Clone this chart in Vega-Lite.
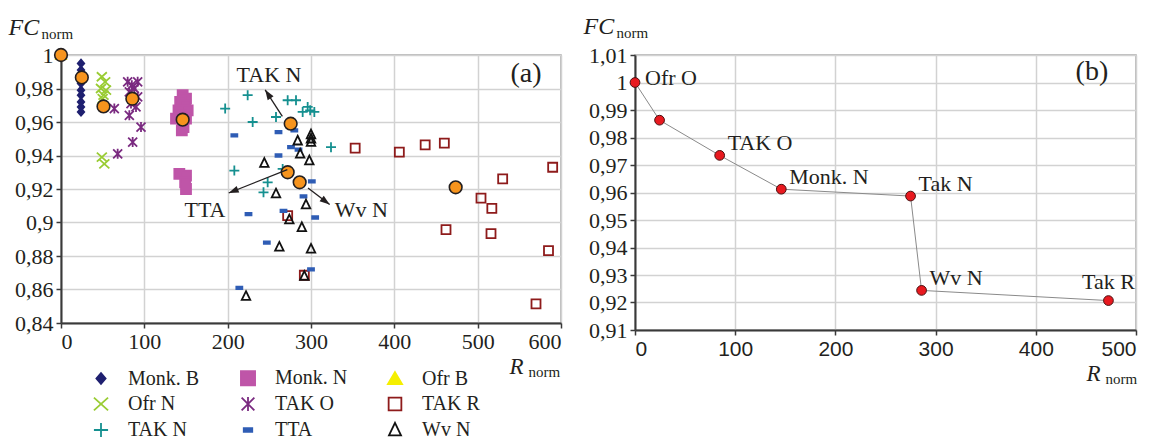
{
  "$schema": "https://vega.github.io/schema/vega-lite/v6.json",
  "background": "white",
  "padding": {"left": 7, "top": 13, "right": 0, "bottom": 0},
  "bounds": "flush",
  "spacing": 74,
  "config": {
    "font": "Liberation Serif",
    "view": {"stroke": "#a6a6a6", "strokeWidth": 1.5},
    "axis": {
      "labelFont": "Liberation Serif", "labelFontSize": 22, "labelColor": "#231f20",
      "gridColor": "#d2d2d2", "gridWidth": 1.5,
      "domainColor": "#3a3a3a", "domainWidth": 2,
      "tickColor": "#3a3a3a", "tickSize": 5, "tickWidth": 1.5, "labelPadding": 3,
      "titleFont": "Liberation Serif", "titleColor": "#231f20", "titleFontWeight": "normal"
    },
    "legend": {
      "orient": "none", "legendX": 30, "legendY": 313, "columns": 3, "gridAlign": "all",
      "labelFont": "Liberation Serif", "labelFontSize": 20, "labelColor": "#231f20",
      "symbolSize": 200, "symbolStrokeWidth": 1.8, "labelOffset": 17,
      "columnPadding": 36, "rowPadding": 4, "padding": 0
    }
  },
  "resolve": {"legend": {"shape": "independent", "fill": "independent", "stroke": "independent"}},
  "hconcat": [
    {
      "width": 500,
      "height": 268,
      "resolve": {"axis": {"x": "independent", "y": "independent"}},
      "layer": [
        {
          "data": {"values": [
            {"s": "Ofr B", "x": 0, "y": 1.0},
            {"s": "Monk. B", "x": 24, "y": 0.995}, {"s": "Monk. B", "x": 24, "y": 0.991}, {"s": "Monk. B", "x": 24, "y": 0.987},
            {"s": "Monk. B", "x": 24, "y": 0.983}, {"s": "Monk. B", "x": 24, "y": 0.979}, {"s": "Monk. B", "x": 24, "y": 0.976},
            {"s": "Monk. B", "x": 24, "y": 0.972}, {"s": "Monk. B", "x": 24, "y": 0.969}, {"s": "Monk. B", "x": 24, "y": 0.966},
            {"s": "Ofr N", "x": 49, "y": 0.987}, {"s": "Ofr N", "x": 53, "y": 0.984}, {"s": "Ofr N", "x": 48, "y": 0.980},
            {"s": "Ofr N", "x": 54, "y": 0.979}, {"s": "Ofr N", "x": 51, "y": 0.976}, {"s": "Ofr N", "x": 50, "y": 0.974},
            {"s": "Ofr N", "x": 49, "y": 0.939}, {"s": "Ofr N", "x": 52, "y": 0.935},
            {"s": "TAK O", "x": 64, "y": 0.968}, {"s": "TAK O", "x": 80, "y": 0.984}, {"s": "TAK O", "x": 85, "y": 0.982},
            {"s": "TAK O", "x": 92, "y": 0.984}, {"s": "TAK O", "x": 82, "y": 0.978}, {"s": "TAK O", "x": 88, "y": 0.980},
            {"s": "TAK O", "x": 92, "y": 0.975}, {"s": "TAK O", "x": 90, "y": 0.969}, {"s": "TAK O", "x": 84, "y": 0.971},
            {"s": "TAK O", "x": 82, "y": 0.964}, {"s": "TAK O", "x": 96, "y": 0.957}, {"s": "TAK O", "x": 86, "y": 0.948},
            {"s": "TAK O", "x": 68, "y": 0.941},
            {"s": "Monk. N", "x": 146, "y": 0.976}, {"s": "Monk. N", "x": 150, "y": 0.974}, {"s": "Monk. N", "x": 143, "y": 0.972},
            {"s": "Monk. N", "x": 149, "y": 0.970}, {"s": "Monk. N", "x": 141, "y": 0.967}, {"s": "Monk. N", "x": 152, "y": 0.967},
            {"s": "Monk. N", "x": 138, "y": 0.962}, {"s": "Monk. N", "x": 144, "y": 0.964}, {"s": "Monk. N", "x": 150, "y": 0.962},
            {"s": "Monk. N", "x": 147, "y": 0.957}, {"s": "Monk. N", "x": 145, "y": 0.955}, {"s": "Monk. N", "x": 142, "y": 0.929},
            {"s": "Monk. N", "x": 150, "y": 0.928}, {"s": "Monk. N", "x": 149, "y": 0.924}, {"s": "Monk. N", "x": 150, "y": 0.920},
            {"s": "TAK R", "x": 353, "y": 0.9444}, {"s": "TAK R", "x": 406, "y": 0.942}, {"s": "TAK R", "x": 437, "y": 0.9464},
            {"s": "TAK R", "x": 460, "y": 0.9474}, {"s": "TAK R", "x": 590, "y": 0.933}, {"s": "TAK R", "x": 530, "y": 0.926},
            {"s": "TAK R", "x": 504, "y": 0.9146}, {"s": "TAK R", "x": 517, "y": 0.9084}, {"s": "TAK R", "x": 462, "y": 0.8958},
            {"s": "TAK R", "x": 516, "y": 0.8934}, {"s": "TAK R", "x": 585, "y": 0.8832}, {"s": "TAK R", "x": 570, "y": 0.8514},
            {"s": "TAK R", "x": 272, "y": 0.9041}, {"s": "TAK R", "x": 292, "y": 0.8685},
            {"s": "TAK N", "x": 197, "y": 0.968}, {"s": "TAK N", "x": 224, "y": 0.976}, {"s": "TAK N", "x": 230, "y": 0.960},
            {"s": "TAK N", "x": 258, "y": 0.963}, {"s": "TAK N", "x": 272, "y": 0.973}, {"s": "TAK N", "x": 282, "y": 0.973},
            {"s": "TAK N", "x": 290, "y": 0.966}, {"s": "TAK N", "x": 296, "y": 0.969}, {"s": "TAK N", "x": 304, "y": 0.966},
            {"s": "TAK N", "x": 299, "y": 0.967}, {"s": "TAK N", "x": 324, "y": 0.945}, {"s": "TAK N", "x": 208, "y": 0.931},
            {"s": "TAK N", "x": 248, "y": 0.924}, {"s": "TAK N", "x": 243, "y": 0.918}, {"s": "TAK N", "x": 266, "y": 0.932},
            {"s": "TTA", "x": 208, "y": 0.952}, {"s": "TTA", "x": 261, "y": 0.954}, {"s": "TTA", "x": 261, "y": 0.940},
            {"s": "TTA", "x": 276, "y": 0.945}, {"s": "TTA", "x": 285, "y": 0.9435}, {"s": "TTA", "x": 280, "y": 0.955},
            {"s": "TTA", "x": 301, "y": 0.9246}, {"s": "TTA", "x": 225, "y": 0.905}, {"s": "TTA", "x": 267, "y": 0.907},
            {"s": "TTA", "x": 291, "y": 0.9156}, {"s": "TTA", "x": 305, "y": 0.903}, {"s": "TTA", "x": 247, "y": 0.888},
            {"s": "TTA", "x": 300, "y": 0.872}, {"s": "TTA", "x": 214, "y": 0.861},
            {"s": "Wv N", "x": 244, "y": 0.9355}, {"s": "Wv N", "x": 284, "y": 0.9488}, {"s": "Wv N", "x": 300, "y": 0.9525},
            {"s": "Wv N", "x": 300, "y": 0.950}, {"s": "Wv N", "x": 300, "y": 0.948}, {"s": "Wv N", "x": 287, "y": 0.941},
            {"s": "Wv N", "x": 298, "y": 0.937}, {"s": "Wv N", "x": 258, "y": 0.9172}, {"s": "Wv N", "x": 294, "y": 0.9107},
            {"s": "Wv N", "x": 274, "y": 0.9017}, {"s": "Wv N", "x": 289, "y": 0.8971}, {"s": "Wv N", "x": 262, "y": 0.8854},
            {"s": "Wv N", "x": 300, "y": 0.8842}, {"s": "Wv N", "x": 292, "y": 0.868}, {"s": "Wv N", "x": 222, "y": 0.856}
          ]},
          "mark": {"type": "point", "size": 100, "strokeWidth": 1.8, "opacity": 1},
          "encoding": {
            "x": {"field": "x", "type": "quantitative",
              "scale": {"domain": [0, 600], "nice": false, "zero": false},
              "axis": {"orient": "bottom", "values": [0, 100, 200, 300, 400, 500, 600], "grid": true,
                "title": "R", "titleFontStyle": "italic", "titleFontSize": 23, "titleAngle": 0,
                "titleX": 448, "titleY": 50, "titleAlign": "left", "titleBaseline": "alphabetic"}},
            "y": {"field": "y", "type": "quantitative",
              "scale": {"domain": [0.84, 1.0], "nice": false, "zero": false},
              "axis": {"orient": "left", "values": [0.84, 0.86, 0.88, 0.9, 0.92, 0.94, 0.96, 0.98, 1.0], "grid": true,
                "labelExpr": "replace(format(datum.value, '.2~f'), '.', ',')",
                "title": "FC", "titleFontStyle": "italic", "titleFontSize": 24, "titleAngle": 0,
                "titleX": -53, "titleY": -21, "titleAlign": "left", "titleBaseline": "alphabetic"}},
            "shape": {"field": "s", "type": "nominal", "legend": {"title": null},
              "scale": {"domain": ["Monk. B", "Ofr N", "TAK N", "Monk. N", "TAK O", "TTA", "Ofr B", "TAK R", "Wv N"],
                "range": [
                  "M0,-0.75L0.65,0L0,0.75L-0.65,0Z",
                  "M-1,-0.9L1,0.9M-1,0.9L1,-0.9",
                  "M-1,0L1,0M0,-1L0,1",
                  "M-1,-1L1,-1L1,1L-1,1Z",
                  "M-0.9,-0.9L0.9,0.9M-0.9,0.9L0.9,-0.9M0,-1L0,1",
                  "M-0.6,-0.25L0.6,-0.25L0.6,0.25L-0.6,0.25Z",
                  "M0,-0.9L1,0.8L-1,0.8Z",
                  "M-0.9,-0.9L0.9,-0.9L0.9,0.9L-0.9,0.9Z",
                  "M0,-1L0.85,0.75L-0.85,0.75Z"
                ]}},
            "fill": {"field": "s", "type": "nominal", "legend": {"title": null},
              "scale": {"domain": ["Monk. B", "Ofr N", "TAK N", "Monk. N", "TAK O", "TTA", "Ofr B", "TAK R", "Wv N"],
                "range": ["#1f2070", "transparent", "transparent", "#bf55a8", "transparent", "#2f5db5", "#f5ef00", "transparent", "transparent"]}},
            "stroke": {"field": "s", "type": "nominal", "legend": {"title": null},
              "scale": {"domain": ["Monk. B", "Ofr N", "TAK N", "Monk. N", "TAK O", "TTA", "Ofr B", "TAK R", "Wv N"],
                "range": ["#1f2070", "#99cc33", "#159090", "#bf55a8", "#7a2a80", "#2f5db5", "#f5ef00", "#8e1b1b", "#111111"]}}
          }
        },
        {
          "data": {"values": [
            {"x": 0, "y": 1.0}, {"x": 25, "y": 0.9866}, {"x": 51, "y": 0.9693}, {"x": 85.6, "y": 0.9739},
            {"x": 146, "y": 0.9614}, {"x": 275.6, "y": 0.959}, {"x": 272, "y": 0.93}, {"x": 286.4, "y": 0.924},
            {"x": 473.6, "y": 0.921}
          ]},
          "mark": {"type": "point", "shape": "circle", "filled": true, "fill": "#f7941d", "stroke": "#231f20", "strokeWidth": 1.6, "size": 160, "opacity": 1},
          "encoding": {
            "x": {"field": "x", "type": "quantitative",
              "axis": {"orient": "bottom", "labels": false, "ticks": false, "domain": false, "grid": false,
                "title": "norm", "titleFontSize": 15, "titleAngle": 0,
                "titleX": 467, "titleY": 53, "titleAlign": "left", "titleBaseline": "alphabetic"}},
            "y": {"field": "y", "type": "quantitative",
              "axis": {"orient": "left", "labels": false, "ticks": false, "domain": false, "grid": false,
                "title": "norm", "titleFontSize": 15, "titleAngle": 0,
                "titleX": -20, "titleY": -17, "titleAlign": "left", "titleBaseline": "alphabetic"}}
          }
        },
        {
          "data": {"values": [
            {"label": "TAK N", "x1": 265.6, "y1": 0.9633, "x2": 245, "y2": 0.9792},
            {"label": "TTA", "x1": 271.6, "y1": 0.9316, "x2": 201.2, "y2": 0.9176},
            {"label": "Wv N", "x1": 296.4, "y1": 0.9206, "x2": 322.4, "y2": 0.9107}
          ]},
          "mark": {"type": "rule", "color": "#231f20", "strokeWidth": 1.3},
          "encoding": {
            "x": {"field": "x1", "type": "quantitative", "axis": null},
            "y": {"field": "y1", "type": "quantitative", "axis": null},
            "x2": {"field": "x2"},
            "y2": {"field": "y2"}
          }
        },
        {
          "data": {"values": [{"label": "TAK N", "x": 245, "y": 0.9792}]},
          "mark": {"type": "point", "shape": "M0,0L0.7,2L-0.7,2Z", "size": 100, "filled": true, "color": "#231f20", "opacity": 1, "angle": 327},
          "encoding": {"x": {"field": "x", "type": "quantitative", "axis": null}, "y": {"field": "y", "type": "quantitative", "axis": null}}
        },
        {
          "data": {"values": [{"label": "TTA", "x": 201.2, "y": 0.9176}]},
          "mark": {"type": "point", "shape": "M0,0L0.7,2L-0.7,2Z", "size": 100, "filled": true, "color": "#231f20", "opacity": 1, "angle": 248},
          "encoding": {"x": {"field": "x", "type": "quantitative", "axis": null}, "y": {"field": "y", "type": "quantitative", "axis": null}}
        },
        {
          "data": {"values": [{"label": "Wv N", "x": 322.4, "y": 0.9107}]},
          "mark": {"type": "point", "shape": "M0,0L0.7,2L-0.7,2Z", "size": 100, "filled": true, "color": "#231f20", "opacity": 1, "angle": 127},
          "encoding": {"x": {"field": "x", "type": "quantitative", "axis": null}, "y": {"field": "y", "type": "quantitative", "axis": null}}
        },
        {
          "data": {"values": [
            {"label": "TAK N", "x": 249.6, "y": 0.9882},
            {"label": "TTA", "x": 172.8, "y": 0.9077},
            {"label": "Wv N", "x": 360.4, "y": 0.9077},
            {"label": "(a)", "x": 558, "y": 0.9884}
          ]},
          "mark": {"type": "text", "font": "Liberation Serif", "fontSize": 22, "color": "#231f20", "align": "center", "baseline": "middle"},
          "encoding": {
            "x": {"field": "x", "type": "quantitative", "axis": null},
            "y": {"field": "y", "type": "quantitative", "axis": null},
            "text": {"field": "label"},
            "size": {"condition": {"test": "datum.label === '(a)'", "value": 28}, "value": 22}
          }
        }
      ]
    },
    {
      "width": 501,
      "height": 275,
      "resolve": {"axis": {"x": "independent", "y": "independent"}},
      "data": {"values": [
        {"label": "Ofr O", "x": 0, "y": 1.0},
        {"label": "", "x": 24.5, "y": 0.9863},
        {"label": "TAK O", "x": 84.5, "y": 0.9735},
        {"label": "Monk. N", "x": 146, "y": 0.9612},
        {"label": "Tak N", "x": 275, "y": 0.9587},
        {"label": "Wv N", "x": 286, "y": 0.9244},
        {"label": "Tak R", "x": 472.5, "y": 0.9207}
      ]},
      "layer": [
        {
          "mark": {"type": "line", "color": "#8a8a8a", "strokeWidth": 1},
          "encoding": {
            "x": {"field": "x", "type": "quantitative",
              "scale": {"domain": [0, 500], "nice": false, "zero": false},
              "axis": {"orient": "bottom", "values": [0, 100, 200, 300, 400, 500], "grid": true,
                "labelFont": "Liberation Sans", "labelFontSize": 21,
                "title": "R", "titleFontStyle": "italic", "titleFontSize": 23, "titleAngle": 0,
                "titleX": 451, "titleY": 50, "titleAlign": "left", "titleBaseline": "alphabetic"}},
            "y": {"field": "y", "type": "quantitative",
              "scale": {"domain": [0.91, 1.01], "nice": false, "zero": false},
              "axis": {"orient": "left", "values": [0.91, 0.92, 0.93, 0.94, 0.95, 0.96, 0.97, 0.98, 0.99, 1.0, 1.01], "grid": true,
                "labelExpr": "replace(format(datum.value, '.2~f'), '.', ',')",
                "title": "FC", "titleFontStyle": "italic", "titleFontSize": 24, "titleAngle": 0,
                "titleX": -52, "titleY": -22, "titleAlign": "left", "titleBaseline": "alphabetic"}}
          }
        },
        {
          "mark": {"type": "point", "shape": "circle", "filled": true, "fill": "#e8191f", "stroke": "#4a1010", "strokeWidth": 1, "size": 95, "opacity": 1},
          "encoding": {
            "x": {"field": "x", "type": "quantitative",
              "axis": {"orient": "bottom", "labels": false, "ticks": false, "domain": false, "grid": false,
                "title": "norm", "titleFontSize": 15, "titleAngle": 0,
                "titleX": 470, "titleY": 53, "titleAlign": "left", "titleBaseline": "alphabetic"}},
            "y": {"field": "y", "type": "quantitative",
              "axis": {"orient": "left", "labels": false, "ticks": false, "domain": false, "grid": false,
                "title": "norm", "titleFontSize": 15, "titleAngle": 0,
                "titleX": -19, "titleY": -18, "titleAlign": "left", "titleBaseline": "alphabetic"}}
          }
        },
        {
          "transform": [{"filter": "datum.label === 'Ofr O'"}],
          "mark": {"type": "text", "font": "Liberation Serif", "fontSize": 22, "color": "#231f20", "align": "left", "baseline": "middle", "dx": 10, "dy": -5},
          "encoding": {
            "x": {"field": "x", "type": "quantitative", "axis": null},
            "y": {"field": "y", "type": "quantitative", "axis": null},
            "text": {"field": "label"}
          }
        },
        {
          "transform": [{"filter": "datum.label !== 'Ofr O' && datum.label !== 'Tak R' && datum.label !== ''"}],
          "mark": {"type": "text", "font": "Liberation Serif", "fontSize": 22, "color": "#231f20", "align": "left", "baseline": "middle", "dx": 8, "dy": -12},
          "encoding": {
            "x": {"field": "x", "type": "quantitative", "axis": null},
            "y": {"field": "y", "type": "quantitative", "axis": null},
            "text": {"field": "label"}
          }
        },
        {
          "transform": [{"filter": "datum.label === 'Tak R'"}],
          "mark": {"type": "text", "font": "Liberation Serif", "fontSize": 22, "color": "#231f20", "align": "center", "baseline": "middle", "dy": -19},
          "encoding": {
            "x": {"field": "x", "type": "quantitative", "axis": null},
            "y": {"field": "y", "type": "quantitative", "axis": null},
            "text": {"field": "label"}
          }
        },
        {
          "data": {"values": [{"label": "(b)", "x": 456, "y": 1.004}]},
          "mark": {"type": "text", "font": "Liberation Serif", "fontSize": 28, "color": "#231f20", "align": "center", "baseline": "middle"},
          "encoding": {
            "x": {"field": "x", "type": "quantitative", "axis": null},
            "y": {"field": "y", "type": "quantitative", "axis": null},
            "text": {"field": "label"}
          }
        }
      ]
    }
  ]
}
